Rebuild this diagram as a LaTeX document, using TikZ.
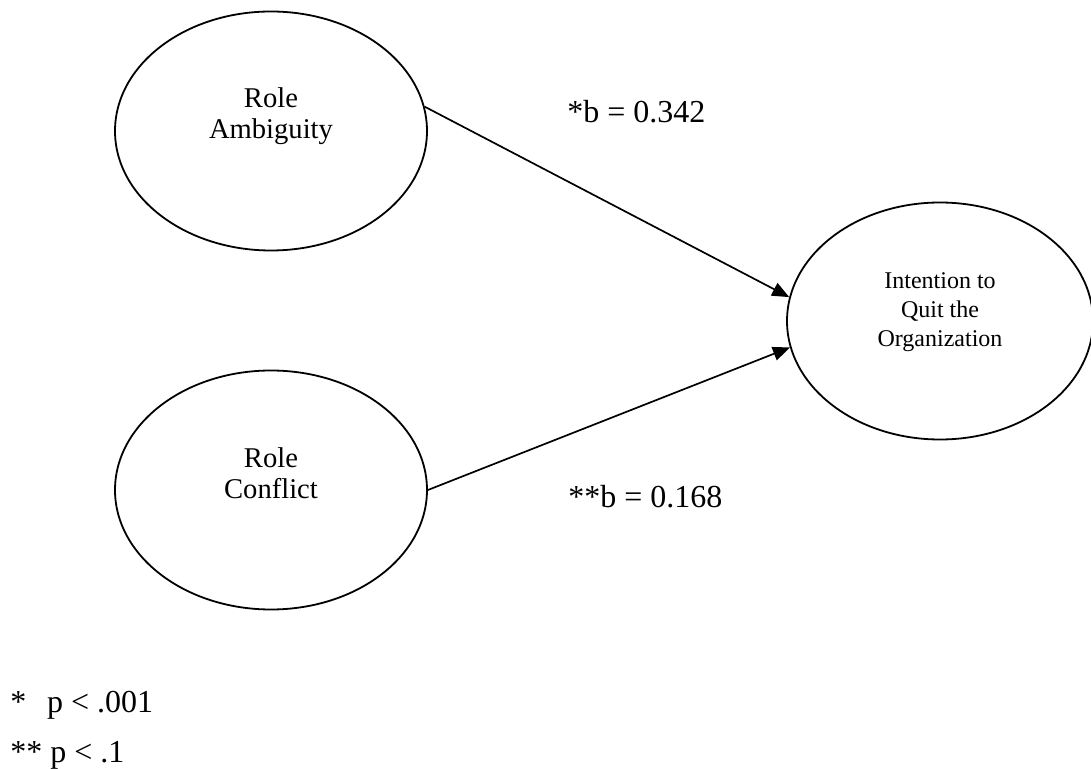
\documentclass[tikz,border=0pt]{standalone}
\usepackage{fontspec}
\setmainfont{Liberation Serif}
\usetikzlibrary{shapes.geometric,arrows.meta}

\begin{document}
\begin{tikzpicture}[x=0.5pt, y=-0.5pt, >={Triangle[length=8.5pt,width=7pt]},
    construct/.style={ellipse, draw, line width=0.9pt, inner sep=0pt,
        minimum width=156pt, minimum height=119.5pt},
    roletext/.style={align=center, inner sep=0pt, font=\fontsize{14.3}{15.5}\selectfont},
    quittext/.style={align=center, inner sep=0pt, font=\fontsize{12}{14.5}\selectfont},
    coef/.style={anchor=base west, inner sep=0pt, font=\fontsize{16}{19}\selectfont}]
    \useasboundingbox (0,0) rectangle (1091,769);

    \node[construct] (amb) at (271,131) {};
    \node[construct] (conf) at (271,490) {};
    \node[construct, minimum width=153pt, minimum height=118.5pt] (quit) at (940,321) {};

    \node[roletext] (ambname) at (271,116) {Role\\Ambiguity};
    \node[roletext] (confname) at (271,473) {Role\\Conflict};
    \node[quittext] (quitname) at (940,312) {Intention to\\Quit the\\Organization};

    \draw[->, line width=0.85pt] (amb.9) -- (quit.171);
    \draw[->, line width=0.85pt] (conf.0) -- (quit.190);

    \node[coef] (bamb) at (567,123) {*b = 0.342};
    \node[coef] (bconf) at (568,507) {**b = 0.168};

    \node[coef] (noteone) at (10,712) {*\hspace{0.65em}p < .001};
    \node[coef] (notetwo) at (10,762) {** p < .1};
\end{tikzpicture}
\end{document}
